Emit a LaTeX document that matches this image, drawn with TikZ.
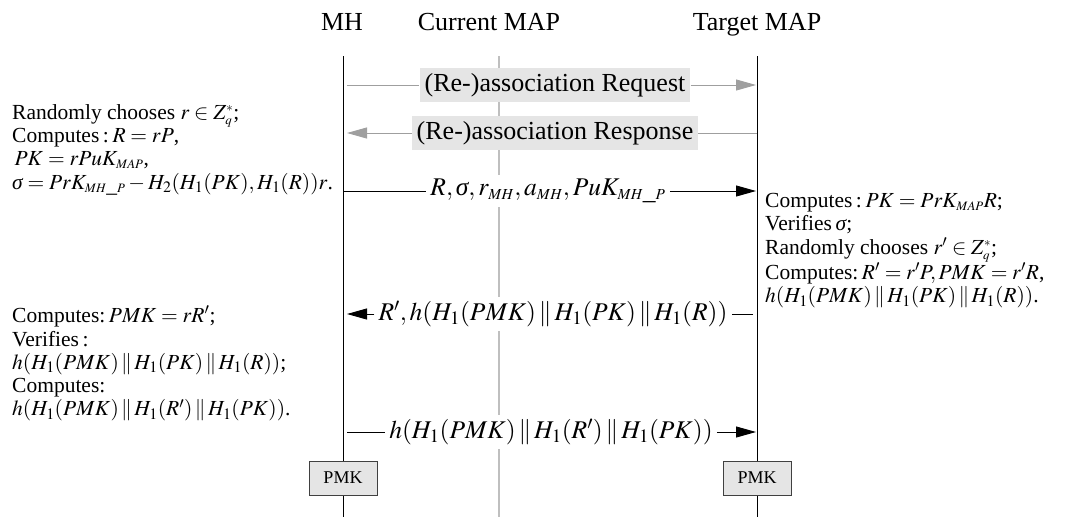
\documentclass[tikz,border=0pt]{standalone}
\usepackage{mathptmx}
\usepackage{fontspec}
\setmainfont{Liberation Serif}
\usetikzlibrary{arrows.meta,positioning}
\newcommand{\ssub}[1]{_{\scriptscriptstyle #1}}
\newcommand{\sig}{\mbox{\itshape\char"03C3}}
\newcommand{\Zq}{Z^{\scriptscriptstyle *}_{\scriptscriptstyle q}}
\tikzset{
  lifeline/.style={black,line width=0.9pt},
  curline/.style={gray!50,line width=1.8pt},
  greymsg/.style={gray!75,line width=0.9pt},
  blackmsg/.style={black,line width=0.9pt},
  msgtip/.style={-{Triangle[length=20pt,width=11pt]}},
  greybox/.style={fill=gray!20,inner sep=5pt,font=\fontsize{26}{28}\selectfont},
  msglabel/.style={fill=white,inner sep=4pt,font=\fontsize{25.5}{28}\selectfont},
  title/.style={anchor=base,font=\fontsize{26}{28}\selectfont},
  steps/.style={align=left,anchor=north west,inner sep=0pt,
    font=\fontsize{21.5}{23.3}\selectfont},
  keybox/.style={draw=black!75,fill=gray!20,minimum width=68pt,minimum height=34pt,
    inner sep=0pt,font=\fontsize{18}{20}\selectfont}
}
\begin{document}
\begin{tikzpicture}[x=1pt,y=-1pt]
\useasboundingbox (0,0) rectangle (1076,517);
% entities
\node[title] (mh) at (342,30) {MH};
\node[title] (cur) at (489,30) {Current MAP};
\node[title] (tgt) at (757,30) {Target MAP};
\coordinate (mhtop) at (343,56); \coordinate (mhbot) at (343,517);
\coordinate (curtop) at (499,56); \coordinate (curbot) at (499,517);
\coordinate (tgttop) at (757,56); \coordinate (tgtbot) at (757,517);
\draw[lifeline] (mhtop) -- (mhbot); % MH
\draw[curline] (curtop) -- (curbot); % current MAP
\draw[lifeline] (tgttop) -- (tgtbot); % target MAP
% (re-)association
\node[greybox] (req) at (555,85) {(Re-)association Request};
\node[greybox] (resp) at (555,133) {(Re-)association Response};
\draw[greymsg,shorten <=4pt] (mhtop |- req) -- (req.west);
\draw[greymsg,msgtip,shorten >=1pt] (req.east) -- (tgttop |- req);
\draw[greymsg] (tgttop |- resp) -- (resp.east);
\draw[greymsg,msgtip,shorten >=4pt] (resp.west) -- (mhtop |- resp);
% MH side, first step
\node[steps] (mhcalc1) at (12,104) {Randomly chooses $r\in\Zq$;\\
 Computes\,:\,$R=rP$,\\
 $\,PK=rPuK\ssub{MAP}$,\\
 $\sig=PrK\ssub{MH\_P}-H_2(H_1(PK),H_1(R))r$.};
% message to target MAP
\node[msglabel] (m3) at (548,191) {$R,\sig,r\ssub{MH},a\ssub{MH},PuK\ssub{MH\_P}$};
\draw[blackmsg,shorten <=1pt] (mhtop |- m3) -- (m3.west);
\draw[blackmsg,msgtip,shorten >=1pt] (m3.east) -- (tgttop |- m3);
% target MAP side
\node[steps] (tgtcalc) at (765,193) {Computes\,:\,$PK=PrK\ssub{MAP}R$;\\
 Verifies\,$\sig$;\\
 Randomly chooses $r'\in\Zq$;\\
 Computes:\,$R'=r'P,PMK=r'R$,\\
 $h(H_1(PMK)\,\|\,H_1(PK)\,\|\,H_1(R))$.};
% reply to MH
\node[msglabel] (m4) at (553,314) {$R',h(H_1(PMK)\,\|\,H_1(PK)\,\|\,H_1(R))$};
\draw[blackmsg,shorten <=4pt] (tgttop |- m4) -- (m4.east);
\draw[blackmsg,msgtip,shorten >=4pt] (m4.west) -- (mhtop |- m4);
% MH side, second step
\node[steps] (mhcalc2) at (12,306) {Computes:\,$PMK=rR'$;\\
 Verifies\,:\\
 $h(H_1(PMK)\,\|\,H_1(PK)\,\|\,H_1(R))$;\\
 Computes:\\
 $h(H_1(PMK)\,\|\,H_1(R')\,\|\,H_1(PK))$.};
% confirmation
\node[msglabel] (m5) at (551,432) {$h(H_1(PMK)\,\|\,H_1(R')\,\|\,H_1(PK))$};
\draw[blackmsg,shorten <=4pt] (mhtop |- m5) -- (m5.west);
\draw[blackmsg,msgtip,shorten >=1pt] (m5.east) -- (tgttop |- m5);
% keys
\node[keybox] (mhkey) at (343,478) {PMK};
\node[keybox] (tgtkey) at (757,478) {PMK};
\end{tikzpicture}
\end{document}
